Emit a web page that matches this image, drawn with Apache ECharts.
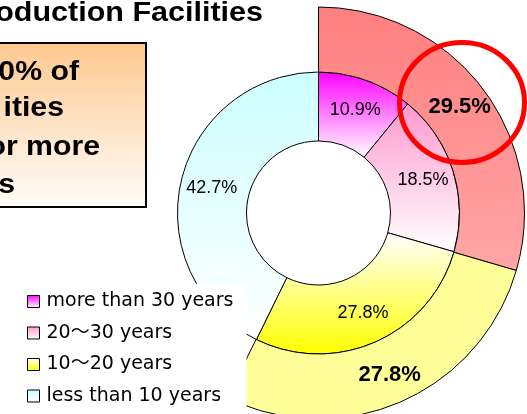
<!DOCTYPE html>
<html>
<head>
<meta charset="utf-8">
<script src="https://cdn.jsdelivr.net/npm/echarts@6/dist/echarts.min.js"></script>
<style>
html, body { margin: 0; padding: 0; background: #fff; }
#main { width: 527px; height: 414px; }
</style>
</head>
<body>
<div id="main"></div>
<script>
// inner ring: share by age of facility
var ageGroups = ['more than 30 years', '20～30 years', '10～20 years', 'less than 10 years']
var innerShare = [10.9, 18.5, 27.8, 42.7]
// outer ring: 20 years or more / 10-20 years, the rest left blank
var outerGroups = ['20 years or more', '10～20 years ', 'blank']
var outerShare = [29.5, 27.8, 42.7]

var headingText = 'oduction Facilities'
var noteLines = ['0% of', 'ities', 'or more', 's']

function vgrad (top, bottom) {
  return new echarts.graphic.LinearGradient(0, 0, 0, 1, [
    { offset: 0, color: top },
    { offset: 1, color: bottom }
  ])
}

var innerColors = [
  vgrad('#ff00ff', '#ffffff'),
  vgrad('#ff99cc', '#ffffff'),
  vgrad('#ffffff', '#ffff00'),
  vgrad('#ccffff', '#ffffff')
]
var outerColors = [vgrad('#ff7f7f', '#ffa6a6'), '#ffff99', 'rgba(0,0,0,0)']

var arial = '"Liberation Sans", Arial, sans-serif'

var chart = echarts.init(document.getElementById('main'))

var option = {
  animation: false,
  backgroundColor: '#fff',
  legend: {
    orient: 'vertical',
    left: 0,
    top: 284,
    data: ageGroups,
    backgroundColor: '#fff',
    padding: [8, 13, 8, 27],
    itemWidth: 12,
    itemHeight: 12,
    itemGap: 12.5,
    icon: 'rect',
    selectedMode: false,
    itemStyle: { borderColor: '#000', borderWidth: 1 },
    textStyle: { fontFamily: '"DejaVu Sans", "Noto Sans CJK JP"', fontSize: 19, lineHeight: 19, color: '#000', padding: [0, 0, 0, 2] }
  },
  graphic: [
    {
      type: 'text',
      x: 263,
      y: 13.8,
      scaleX: 1.13,
      style: { text: headingText, fill: '#000', fontSize: 27, fontWeight: 'bold', fontFamily: arial, align: 'right', verticalAlign: 'middle' }
    },
    {
      type: 'rect',
      shape: { x: -10, y: 43, width: 156, height: 164 },
      style: { fill: vgrad('#ffc88f', '#fffdfb'), stroke: '#000', lineWidth: 2 }
    },
    { type: 'text', x: 79, y: 72.5, scaleX: 1.08, style: { text: noteLines[0], fill: '#000', fontSize: 28, fontWeight: 'bold', fontFamily: arial, align: 'right', verticalAlign: 'middle' } },
    { type: 'text', x: 64, y: 108.5, scaleX: 1.08, style: { text: noteLines[1], fill: '#000', fontSize: 28, fontWeight: 'bold', fontFamily: arial, align: 'right', verticalAlign: 'middle' } },
    { type: 'text', x: 100, y: 147.5, scaleX: 1.08, style: { text: noteLines[2], fill: '#000', fontSize: 28, fontWeight: 'bold', fontFamily: arial, align: 'right', verticalAlign: 'middle' } },
    { type: 'text', x: 15, y: 185.5, scaleX: 1.08, style: { text: noteLines[3], fill: '#000', fontSize: 28, fontWeight: 'bold', fontFamily: arial, align: 'right', verticalAlign: 'middle' } },
    {
      type: 'ellipse',
      z: 100,
      shape: { cx: 462, cy: 102.5, rx: 62.5, ry: 60 },
      style: { fill: 'none', stroke: '#ff0000', lineWidth: 5 }
    }
  ],
  series: [
    {
      name: 'age',
      type: 'pie',
      center: [318.5, 213],
      radius: [72, 141],
      startAngle: 90,
      clockwise: true,
      silent: true,
      itemStyle: { borderColor: '#000', borderWidth: 1 },
      label: { show: true, position: 'inside', formatter: '{c}%', color: '#000', fontSize: 18, fontFamily: arial },
      labelLine: { show: false },
      emphasis: { disabled: true },
      data: ageGroups.map(function (n, i) {
        return { name: n, value: innerShare[i], itemStyle: { color: innerColors[i] } }
      })
    },
    {
      name: 'outer',
      type: 'pie',
      center: [318.5, 213],
      radius: [141, 206],
      startAngle: 90,
      clockwise: true,
      silent: true,
      itemStyle: { borderColor: '#000', borderWidth: 1 },
      label: { show: true, position: 'inside', formatter: '{c}%', color: '#000', fontSize: 22, fontWeight: 'bold', fontFamily: arial },
      labelLine: { show: false },
      emphasis: { disabled: true },
      data: outerGroups.map(function (n, i) {
        var d = { name: n, value: outerShare[i], itemStyle: { color: outerColors[i] } }
        if (i === 2) {
          d.itemStyle.borderWidth = 0
          d.label = { show: false }
        }
        return d
      })
    }
  ]
}

chart.setOption(option)
</script>
</body>
</html>
